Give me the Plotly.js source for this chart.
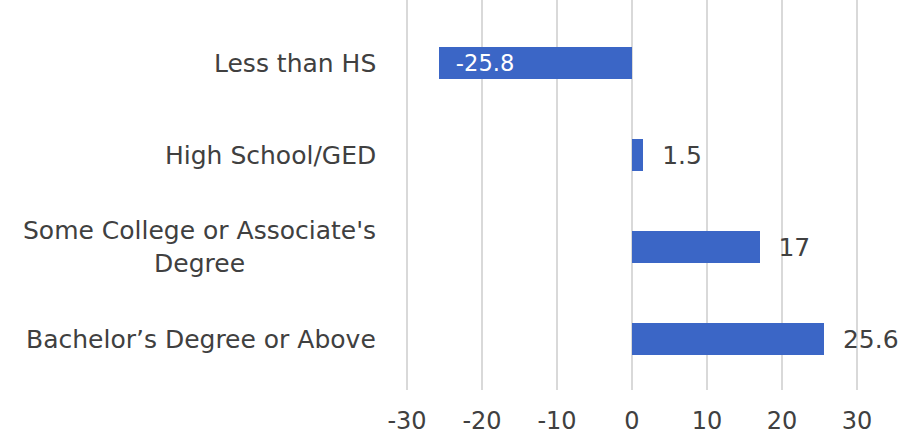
<!DOCTYPE html>
<html>
<head>
<meta charset="utf-8">
<script src="https://cdn.plot.ly/plotly-3.0.1.min.js"></script>
<style>html,body{margin:0;padding:0;background:#fff;}#chart{width:913px;height:435px;}</style>
</head>
<body>
<div id="chart"></div>
<script>
var categories = ["Less than HS", "High School/GED", "Some College or Associate's<br>Degree", "Bachelor\u2019s Degree or Above"];
var values = [-25.8, 1.5, 17, 25.6];
var xTickValues = [-30, -20, -10, 0, 10, 20, 30];

var FONT = "DejaVu Sans, sans-serif";
var TXT = "#404040";
var catIdx = categories.map(function(c, i){ return i; });
var PAD = "\u00a0\u00a0";

var trace = {
  type: "bar",
  orientation: "h",
  x: values,
  y: catIdx,
  width: 0.35,
  marker: {color: "#3B66C6"},
  text: values.map(function(v){ return PAD + String(v); }),
  textposition: values.map(function(v){ return v < 0 ? "inside" : "outside"; }),
  insidetextanchor: "end",
  textfont: {family: FONT, size: 25, color: values.map(function(v){ return v < 0 ? "#ffffff" : TXT; })},
  cliponaxis: false,
  hoverinfo: "none"
};

var annotations = categories.map(function(c, i){
  return {
    xref: "paper", yref: "y", x: -0.058, y: i,
    text: c, showarrow: false, xanchor: "right", yanchor: "middle", align: "center",
    font: {family: FONT, size: 25, color: TXT}
  };
});

var layout = {
  width: 913, height: 435,
  margin: {l: 404, r: 53, t: 0, b: 45},
  paper_bgcolor: "#ffffff", plot_bgcolor: "#ffffff",
  showlegend: false,
  bargap: 0,
  xaxis: {
    range: [-30.4, 30.4], tickvals: xTickValues, ticktext: xTickValues.map(String),
    showgrid: true, gridcolor: "#d9d9d9", gridwidth: 2,
    zeroline: false, showline: false, ticks: "",
    tickfont: {family: FONT, size: 24, color: TXT}, ticklabelstandoff: 14
  },
  yaxis: {
    range: [3.554, -0.685], showticklabels: false, showgrid: false, zeroline: false, showline: false
  },
  annotations: annotations
};

Plotly.newPlot("chart", [trace], layout, {staticPlot: true, displayModeBar: false});
</script>
</body>
</html>
